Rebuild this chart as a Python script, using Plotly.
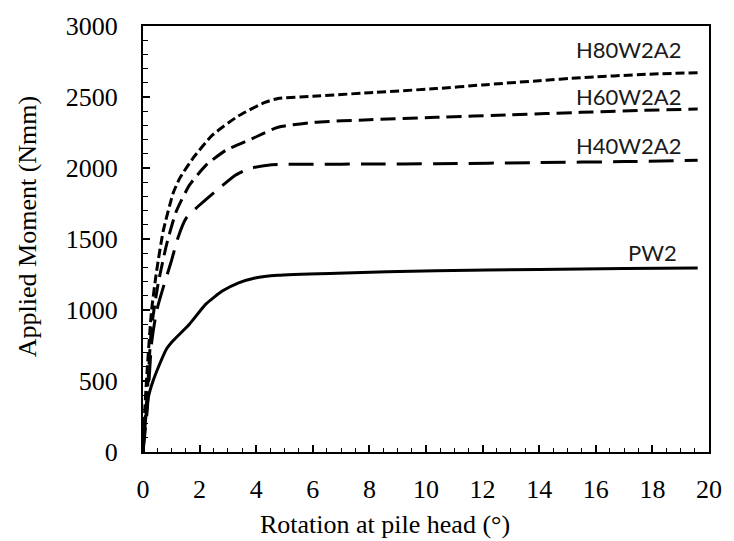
import plotly.graph_objects as go

# Rotation at pile head (deg) and applied moment (Nmm) for each test
h80_x = [0, 0.01, 0.05, 0.13, 0.30, 0.48, 0.71, 1.06, 1.29, 1.75, 2.45, 3.38, 4.31, 4.77, 6.0, 8.0, 10.35, 12.0, 14.0, 15.46, 17.8, 19.6]
h80_y = [0, 60, 250, 527, 993, 1273, 1552, 1820, 1925, 2065, 2231, 2368, 2462, 2490, 2505, 2530, 2559, 2585, 2615, 2636, 2660, 2671]

h60_x = [0, 0.05, 0.15, 0.30, 0.53, 0.83, 1.17, 1.64, 2.22, 2.92, 3.84, 4.77, 6.05, 8.0, 10.35, 13.0, 15.46, 17.5, 19.6]
h60_y = [0, 150, 412, 876, 1180, 1459, 1692, 1879, 2019, 2124, 2205, 2287, 2322, 2340, 2357, 2375, 2392, 2405, 2415]

h40_x = [0, 0.05, 0.15, 0.30, 0.48, 0.71, 1.0, 1.23, 1.52, 1.87, 2.68, 3.26, 3.73, 4.54, 6.0, 8.0, 10.35, 14.0, 17.0, 19.6]
h40_y = [0, 100, 294, 762, 993, 1156, 1343, 1506, 1645, 1715, 1855, 1949, 1995, 2023, 2026, 2028, 2030, 2038, 2045, 2054]

pw2_x = [0, 0.05, 0.10, 0.19, 0.36, 0.59, 0.83, 1.06, 1.64, 2.22, 2.80, 3.38, 3.96, 4.77, 6.86, 10.35, 14.0, 17.0, 19.6]
pw2_y = [0, 150, 247, 387, 503, 620, 725, 783, 900, 1041, 1133, 1191, 1226, 1245, 1259, 1277, 1285, 1292, 1296]

series_names = ["H80W2A2", "H60W2A2", "H40W2A2", "PW2"]
label_x = [19.1, 19.1, 19.1, 18.95]
label_y = [2832, 2503, 2161, 1406]

x_ticks = [0, 2, 4, 6, 8, 10, 12, 14, 16, 18, 20]
y_ticks = [0, 500, 1000, 1500, 2000, 2500, 3000]

x_title = "Rotation at pile head (°)"
y_title = "Applied Moment (Nmm)"

fig = go.Figure()
styles = [
    (h80_x, h80_y, "9px,4px"),
    (h60_x, h60_y, "15px,7px"),
    (h40_x, h40_y, "25px,11px"),
    (pw2_x, pw2_y, "solid"),
]
for (xs, ys, dash), name in zip(styles, series_names):
    fig.add_trace(go.Scatter(
        x=xs, y=ys, mode="lines", name=name,
        line=dict(color="black", width=3, dash=dash, shape="spline", smoothing=0.5),
        showlegend=False,
    ))

for name, lx, ly in zip(series_names, label_x, label_y):
    fig.add_annotation(
        x=lx, y=ly, text=name, showarrow=False, xanchor="right", yanchor="middle",
        font=dict(family="Lato", size=22, color="#1a1a1a"),
    )

axis_font = dict(family="Liberation Serif", size=26, color="black")

# axis titles placed as annotations (paper coords relative to plot area 143..717 x 23..452 px)
W, H = 574.0, 429.0
fig.add_annotation(x=(388 - 143) / W, y=(452 - 525) / H, xref="paper", yref="paper",
                   text=x_title, showarrow=False, xanchor="center", yanchor="middle", font=axis_font)
fig.add_annotation(x=(26 - 143) / W, y=(452 - 225) / H, xref="paper", yref="paper",
                   text=y_title, showarrow=False, textangle=-90, xanchor="center", yanchor="middle", font=axis_font)

fig.update_layout(
    width=734, height=541,
    margin=dict(l=143, r=17, t=23, b=89),
    paper_bgcolor="white", plot_bgcolor="white",
    font=axis_font,
)
fig.update_xaxes(
    range=[0, 20], tickvals=x_ticks, ticks="inside", ticklen=7, tickwidth=1.5, tickcolor="black",
    showline=True, linecolor="black", linewidth=2, mirror=True, showgrid=False, zeroline=False,
    minor=dict(dtick=0.5, ticks="inside", ticklen=4, tickcolor="black", tickwidth=1.2),
    tickfont=axis_font, ticklabelstandoff=13,
)
fig.update_yaxes(
    range=[0, 3000], tickvals=y_ticks, ticks="inside", ticklen=7, tickwidth=1.5, tickcolor="black",
    showline=True, linecolor="black", linewidth=2, mirror=True, showgrid=False, zeroline=False,
    minor=dict(dtick=100, ticks="inside", ticklen=5, tickcolor="black", tickwidth=1.2),
    tickfont=axis_font, ticklabelstandoff=18,
)

fig.write_html("out.html")
